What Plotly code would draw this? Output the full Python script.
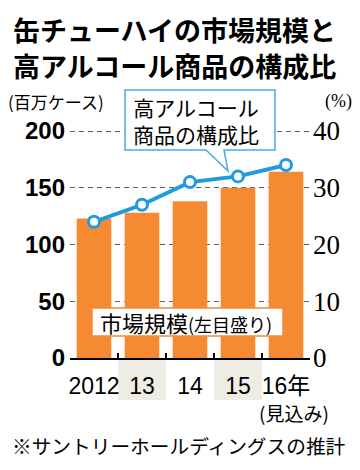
import plotly.graph_objects as go

years = ["2012", "13", "14", "15", "16年"]
market = [123, 128, 138, 150, 164]          # 百万ケース
high_alc_ratio = [24, 27, 31, 32, 34]        # %
left_ticks = [0, 50, 100, 150, 200]
right_ticks = [0, 10, 20, 30, 40]

W, H = 360, 470
def px(x): return x / W
def py(y): return 1 - y / H

ORANGE = "#F58A33"
BLUE = "#1F9BDF"
BOXBLUE = "#46AEDF"
JP = "Noto Sans CJK JP"

# y=0 at 358px, y=200 at 131px -> extend range slightly so the 200 gridline is drawn
PPU = (358 - 131) / 200.0
YMAX = 202
top_px = 358 - YMAX * PPU

fig = go.Figure()
fig.add_trace(go.Bar(x=years, y=market, marker=dict(color=ORANGE, line=dict(width=0)),
                     width=0.72, yaxis="y", showlegend=False, hoverinfo="skip"))
fig.add_trace(go.Scatter(x=years, y=high_alc_ratio, yaxis="y2", mode="lines+markers",
                         line=dict(color=BLUE, width=4),
                         marker=dict(size=11, color="white", line=dict(color=BLUE, width=3)),
                         showlegend=False, hoverinfo="skip"))

shapes = []
for c in (1, 3):
    shapes.append(dict(type="rect", xref="x", yref="paper", x0=c - 0.5, x1=c + 0.5,
                       y0=py(400), y1=py(359), fillcolor="#EDEDE5", line=dict(width=0), layer="below"))
path = "M {},{} L {},{} L {},{} L {},{} L {},{} L {},{} L {},{} Z".format(
    px(125), py(90), px(275), py(90), px(275), py(150), px(224), py(150),
    px(228), py(171), px(206), py(150), px(125), py(150))
shapes.append(dict(type="path", xref="paper", yref="paper", path=path,
                   fillcolor="white", line=dict(color=BOXBLUE, width=1.5), layer="above"))
shapes.append(dict(type="rect", xref="paper", yref="paper", x0=px(92), x1=px(283),
                   y0=py(336), y1=py(308), fillcolor="white",
                   line=dict(color=ORANGE, width=1.5), layer="above"))

ann = []
def A(text, x, y, size, anchor="left", weight="normal", family=JP, color="black"):
    ann.append(dict(text=text, x=px(x), y=py(y), xref="paper", yref="paper",
                    xanchor=anchor, yanchor="middle", showarrow=False,
                    font=dict(family=family, size=size, color=color, weight=weight)))

A("缶チューハイの市場規模と", 11, 30, 27, weight="bold")
A("高アルコール商品の構成比", 11, 66, 27, weight="bold")
A("(百万ケース)", 6, 102, 17)
A("(%)", 354, 102, 18, anchor="right", family="Liberation Serif")
A("高アルコール<br>商品の構成比", 131, 121, 21)
ann.append(dict(text="市場規模<span style='font-size:18px'>(左目盛り)</span>", x=px(98), y=py(322),
                xref="paper", yref="paper", xanchor="left", yanchor="middle", showarrow=False,
                font=dict(family=JP, size=22, color="black")))
A("(見込み)", 294, 412, 19, anchor="center")
A("※サントリーホールディングスの推計", 179, 445, 19.7, anchor="center")

fig.update_layout(
    width=W, height=H, margin=dict(l=0, r=0, t=0, b=0, autoexpand=False),
    paper_bgcolor="white", plot_bgcolor="white",
    shapes=shapes, annotations=ann,
    xaxis=dict(domain=[px(70), px(310)], type="category", range=[-0.5, 4.5],
               showline=True, linecolor="black", linewidth=2,
               ticks="inside", ticklen=5, tickwidth=1.5, tickcolor="black", tickson="boundaries",
               tickangle=0, automargin=False, ticklabelstandoff=6,
               tickfont=dict(family="Liberation Sans, " + JP, size=23, color="black"),
               showgrid=False, fixedrange=True),
    yaxis=dict(domain=[py(358), py(top_px)], range=[0, YMAX], tickvals=left_ticks,
               showgrid=True, gridcolor="#606060", griddash="5px,4px", gridwidth=1,
               zeroline=False, showline=False, ticks="", automargin=False,
               tickfont=dict(family="Liberation Sans", size=24, color="black", weight="bold"),
               ticklabelstandoff=4),
    yaxis2=dict(overlaying="y", side="right", range=[0, YMAX / 5], tickvals=right_ticks,
                showgrid=False, zeroline=False, showline=False, ticks="", automargin=False,
                tickfont=dict(family="Liberation Serif", size=27, color="black"),
                ticklabelstandoff=2),
)

fig.write_html("out.html", config={"displayModeBar": False},
               post_script="document.body.style.margin='0';document.body.style.overflow='hidden';")
